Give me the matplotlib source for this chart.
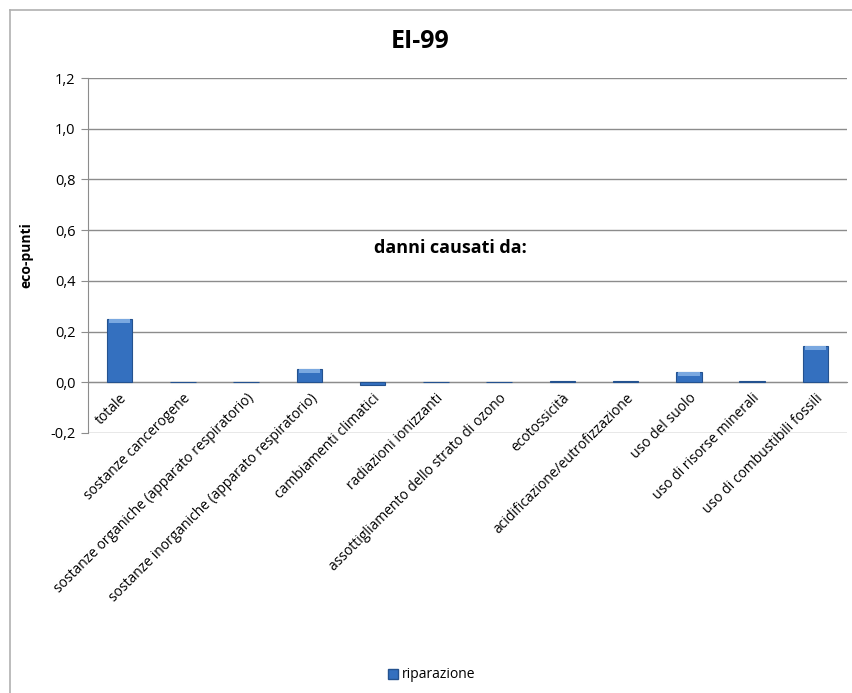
import matplotlib
matplotlib.use("Agg")
import matplotlib.pyplot as plt
from matplotlib.ticker import FuncFormatter, MultipleLocator
from matplotlib.lines import Line2D
from matplotlib.patches import Patch

plt.rcParams['font.family'] = ['Open Sans', 'DejaVu Sans']

categories = [
    "totale",
    "sostanze cancerogene",
    "sostanze organiche (apparato respiratorio)",
    "sostanze inorganiche (apparato respiratorio)",
    "cambiamenti climatici",
    "radiazioni ionizzanti",
    "assottigliamento dello strato di ozono",
    "ecotossicità",
    "acidificazione/eutrofizzazione",
    "uso del suolo",
    "uso di risorse minerali",
    "uso di combustibili fossili",
]
riparazione = [0.248, 0.003, 0.0005, 0.052, -0.010, 0.0003, 0.0001,
               0.006, 0.004, 0.040, 0.004, 0.142]

fig = plt.figure(figsize=(8.53, 6.93), dpi=100)
ax = fig.add_axes([88 / 853, 1 - 433 / 693, (847 - 88) / 853, (433 - 78) / 693])

grid_col = "#8c8c8c"
x = list(range(len(categories)))
ax.bar(x, riparazione, width=0.4, color="#3470bf", edgecolor="#24528f",
       linewidth=0.8, zorder=3)
# lighter rim along the top of each bar for the bevelled look
for xi, v in zip(x, riparazione):
    if abs(v) > 0.02:
        ax.bar(xi, -0.014, bottom=v, width=0.34,
               color="#7aa8e0", linewidth=0, zorder=4)

ax.set_xlim(-0.5, len(categories) - 0.5)
ax.set_ylim(-0.2, 1.2)
ax.yaxis.set_major_locator(MultipleLocator(0.2))
ax.yaxis.set_major_formatter(FuncFormatter(lambda v, p: f"{v:.1f}".replace(".", ",").replace("-0,0", "0,0")))
ax.grid(axis="y", color=grid_col, linewidth=1, zorder=0)
ax.set_axisbelow(True)

for s in ["top", "right"]:
    ax.spines[s].set_visible(False)
ax.spines["left"].set_color(grid_col)
ax.spines["bottom"].set_color(grid_col)
ax.spines["bottom"].set_position(("data", 0))

ax.set_xticks(x)
ax.set_xticklabels(categories, rotation=45, ha="right", rotation_mode="anchor",
                   fontsize=10)
ax.tick_params(axis="x", length=0, pad=6)
ax.tick_params(axis="y", length=5, color=grid_col, labelsize=10.5, pad=4)
ax.set_ylabel("eco-punti", fontsize=10, fontweight="bold", labelpad=12)

fig.text(420 / 853, 1 - 42 / 693, "EI-99", fontsize=18, fontweight="bold",
         ha="center", va="center")
ax.text(450 / 853, 1 - 248 / 693, "danni causati da:", transform=fig.transFigure,
        fontsize=13, fontweight="bold", ha="center", va="center")

fig.legend(handles=[Patch(facecolor="#3470bf", edgecolor="#24528f")],
           labels=["riparazione"], loc="center", bbox_to_anchor=(432 / 853, 1 - 675 / 693),
           frameon=False, fontsize=10, handlelength=0.7, handleheight=0.7,
           handletextpad=0.3)

# chart border (top and left edges)
fig.add_artist(Line2D([10 / 853, 10 / 853], [0, 1 - 10 / 693], transform=fig.transFigure,
                      color="#b0b0b0", linewidth=1.2))
fig.add_artist(Line2D([10 / 853, 1], [1 - 10 / 693, 1 - 10 / 693], transform=fig.transFigure,
                      color="#b0b0b0", linewidth=1.2))

fig.savefig("out.png", dpi=100)
